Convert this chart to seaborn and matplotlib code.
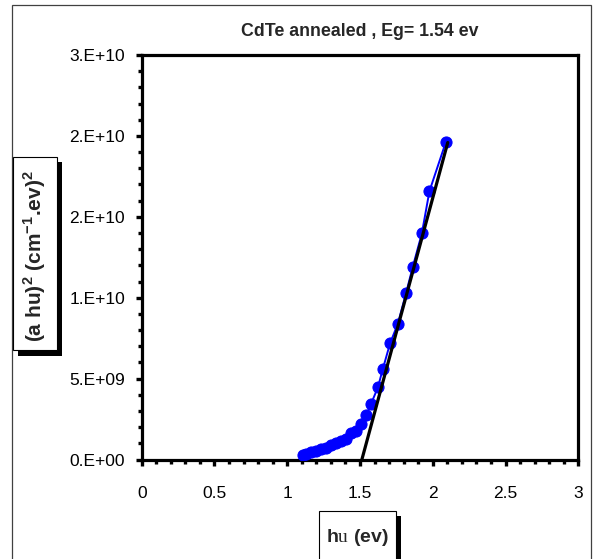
import math
import matplotlib
matplotlib.use("Agg")
import matplotlib.pyplot as plt
import matplotlib.patches as patches
from matplotlib.ticker import MultipleLocator, FuncFormatter
import seaborn as sns

# measured points (photon energy, (alpha h nu)^2)
hv = [1.109, 1.131, 1.166, 1.200, 1.234, 1.269, 1.303, 1.337, 1.371, 1.406,
      1.440, 1.474, 1.509, 1.543, 1.577, 1.623, 1.657, 1.707, 1.760, 1.817,
      1.863, 1.925, 1.977, 2.091]
ahv2 = [0.27e9, 0.35e9, 0.46e9, 0.52e9, 0.62e9, 0.73e9, 0.87e9, 0.99e9, 1.14e9, 1.24e9,
        1.66e9, 1.76e9, 2.18e9, 2.74e9, 3.46e9, 4.46e9, 5.60e9, 7.19e9, 8.39e9, 10.30e9,
        11.92e9, 13.97e9, 16.58e9, 19.65e9]

# linear fit extrapolated to the energy axis
fit_x = [1.513, 2.103]
fit_y = [0.0, 1.959e10]

title = "CdTe annealed , Eg= 1.54 ev"

sns.set_theme(style="white")
plt.rcParams["font.family"] = ["Liberation Sans", "DejaVu Sans"]
plt.rcParams["mathtext.fontset"] = "custom"
plt.rcParams["mathtext.rm"] = "Liberation Serif"
plt.rcParams["mathtext.bf"] = "Liberation Sans:bold"

W, H = 597, 559
fig = plt.figure(figsize=(W / 100, H / 100), dpi=100)
ax = fig.add_axes([141.7 / W, 1 - 459.5 / H, (578.3 - 141.7) / W, (459.5 - 55) / H])

sns.lineplot(x=hv, y=ahv2, ax=ax, color="#0000ff", lw=1.4, marker="o",
             markersize=8, markeredgecolor="#0000ff", zorder=3)
sns.lineplot(x=fit_x, y=fit_y, ax=ax, color="black", lw=2.3, zorder=4)

ax.set_xlim(0, 3)
ax.set_ylim(0, 2.5e10)
ax.xaxis.set_major_locator(MultipleLocator(0.5))
ax.xaxis.set_minor_locator(MultipleLocator(0.1))
ax.yaxis.set_major_locator(MultipleLocator(5e9))
ax.yaxis.set_minor_locator(MultipleLocator(1e9))


def excel_sci(v, pos):
    # Excel style "0.E+00", rounding half up
    if v == 0:
        return "0.E+00"
    e = int(math.floor(math.log10(abs(v))))
    m = math.floor(v / 10 ** e + 0.5)
    if m >= 10:
        m, e = 1, e + 1
    return f"{m}.E{e:+03d}"


ax.yaxis.set_major_formatter(FuncFormatter(excel_sci))
ax.xaxis.set_major_formatter(FuncFormatter(lambda v, p: f"{v:g}"))

for s in ax.spines.values():
    s.set_visible(True)
    s.set_color("black")
    s.set_linewidth(2.3)
ax.tick_params(axis="both", which="both", direction="out", color="black",
               width=2.4, left=True, bottom=True)
ax.tick_params(which="major", length=4)
ax.tick_params(which="minor", length=3)
ax.tick_params(axis="y", which="major", pad=8, labelsize=12.5, labelcolor="black")
ax.tick_params(axis="x", which="major", pad=15, labelsize=12.5, labelcolor="black")
ax.set_xlabel("")
ax.set_ylabel("")
ax.grid(False)

ax.set_title(title, fontsize=12.8, fontweight="bold", pad=14)

# outer chart border
fig.patches.append(patches.Rectangle((12 / W, -0.05), (591 - 12) / W, 1.05 - 5 / H,
                                     transform=fig.transFigure, fill=False,
                                     ec="#404040", lw=0.9))

# y label box with shadow
fig.patches.append(patches.Rectangle((18 / W, 1 - 356 / H), 44 / W, 194 / H,
                                     transform=fig.transFigure, fc="black", ec="black", lw=0))
fig.patches.append(patches.Rectangle((13 / W, 1 - 350 / H), 44 / W, 193 / H,
                                     transform=fig.transFigure, fc="white", ec="black", lw=0.8))
fig.text(35 / W, 1 - 256 / H,
         r"(a hu)$^{\mathbf{2}}$ (cm$^{\mathbf{-1}}$.ev)$^{\mathbf{2}}$",
         rotation=90, ha="center", va="center", fontsize=15, fontweight="bold")

# x label box with shadow
fig.patches.append(patches.Rectangle((323 / W, -0.05), 78 / W, 1.05 - 516 / H,
                                     transform=fig.transFigure, fc="black", ec="black", lw=0))
fig.patches.append(patches.Rectangle((319 / W, -0.05), 77 / W, 1.05 - 511 / H,
                                     transform=fig.transFigure, fc="white", ec="black", lw=0.8))
fig.text(357 / W, 1 - 537 / H, r"h$\mathrm{u}$ (ev)", ha="center", va="center",
         fontsize=14, fontweight="bold")

fig.savefig("out.png", dpi=100, facecolor="white")
